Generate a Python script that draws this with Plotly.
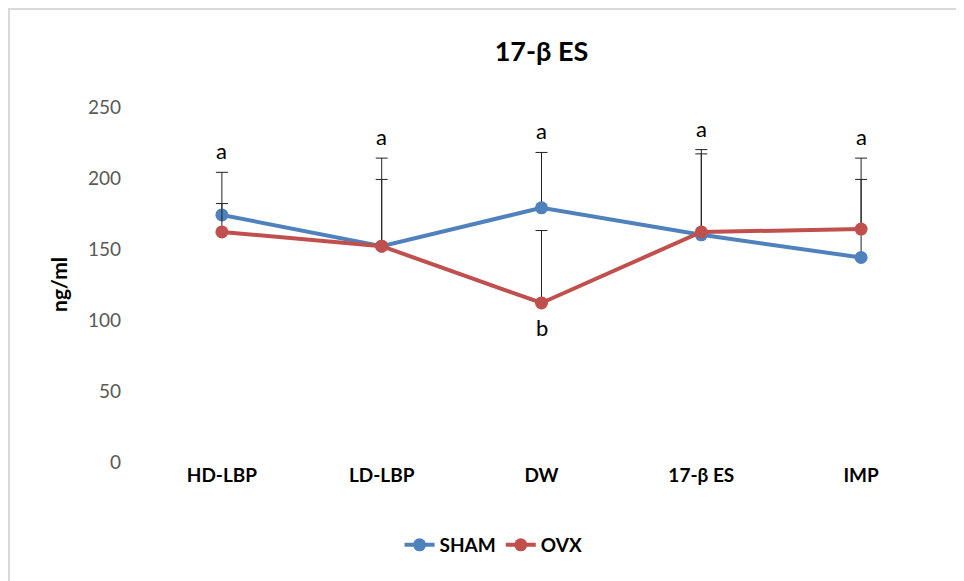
import plotly.graph_objects as go

categories = ["HD-LBP", "LD-LBP", "DW", "17-β ES", "IMP"]
sham = [174, 152, 179, 160, 144]
ovx = [162, 152, 112, 162, 164]
sham_err = [30, 62, 39, 60, 70]
ovx_err = [20, 47, 51, 55, 35]
top_letters = ["a", "a", "a", "a", "a"]
bottom_letter = "b"

FONT = "Lato, Open Sans, sans-serif"
BLUE = "#4f81bd"
RED = "#c0504d"

fig = go.Figure()
fig.add_trace(go.Scatter(
    x=categories, y=sham, name="<b>SHAM</b>", mode="lines+markers",
    line=dict(color=BLUE, width=4), marker=dict(color=BLUE, size=13),
    error_y=dict(type="data", symmetric=False, array=sham_err,
                 arrayminus=[0]*5, color="#222222", thickness=1, width=6),
))
fig.add_trace(go.Scatter(
    x=categories, y=ovx, name="<b>OVX</b>", mode="lines+markers",
    line=dict(color=RED, width=4), marker=dict(color=RED, size=13),
    error_y=dict(type="data", symmetric=False, array=ovx_err,
                 arrayminus=[0]*5, color="#222222", thickness=1, width=6),
))

for i, c in enumerate(categories):
    top = max(sham[i] + sham_err[i], ovx[i] + ovx_err[i])
    fig.add_annotation(x=c, y=top, text=top_letters[i], showarrow=False,
                       yanchor="bottom", yshift=6,
                       font=dict(family=FONT, size=22, color="black"))

fig.add_annotation(x=categories[2], y=ovx[2], text=bottom_letter, showarrow=False,
                   yanchor="top", yshift=-9,
                   font=dict(family=FONT, size=22, color="black"))

# chart geometry (pixels inside the figure)
pl, pw = 134, 799
pt, ph = 99, 355

# chart border (left and top visible)
fig.add_shape(type="rect", xref="paper", yref="paper",
              x0=(1 - pl) / pw, x1=(990 - pl) / pw,
              y0=(pt + ph - 620) / ph, y1=(pt + ph - 1) / ph,
              line=dict(color="#d9d9d9", width=2), layer="below")

fig.update_layout(
    width=964, height=581,
    margin=dict(l=pl, r=964 - pl - pw, t=pt, b=581 - pt - ph),
    paper_bgcolor="white", plot_bgcolor="white",
    title=dict(text="<b>17-β ES</b>", x=0.5, xanchor="center", xref="paper",
               y=1 - 44 / 581, yanchor="middle", yref="container",
               font=dict(family=FONT, size=27, color="black")),
    showlegend=True,
    legend=dict(orientation="h", x=0.44, xanchor="center",
                y=(pt + ph - 537) / ph, yanchor="middle",
                font=dict(family=FONT, size=19, color="black")),
    font=dict(family=FONT),
)
fig.update_xaxes(range=[-0.5, 4.5], showgrid=False, showline=False, zeroline=False,
                 ticks="", tickfont=dict(family=FONT, size=19, color="black"),
                 tickvals=categories, ticktext=["<b>%s</b>" % c for c in categories])
fig.update_yaxes(range=[0, 250], dtick=50, showgrid=False, showline=False,
                 zeroline=False, ticks="", ticklabelstandoff=20,
                 tickfont=dict(family=FONT, size=19, color="#595959"),
                 title=dict(text="<b>ng/ml</b>", standoff=14,
                            font=dict(family=FONT, size=21, color="black")))
fig.write_html("out.html")
